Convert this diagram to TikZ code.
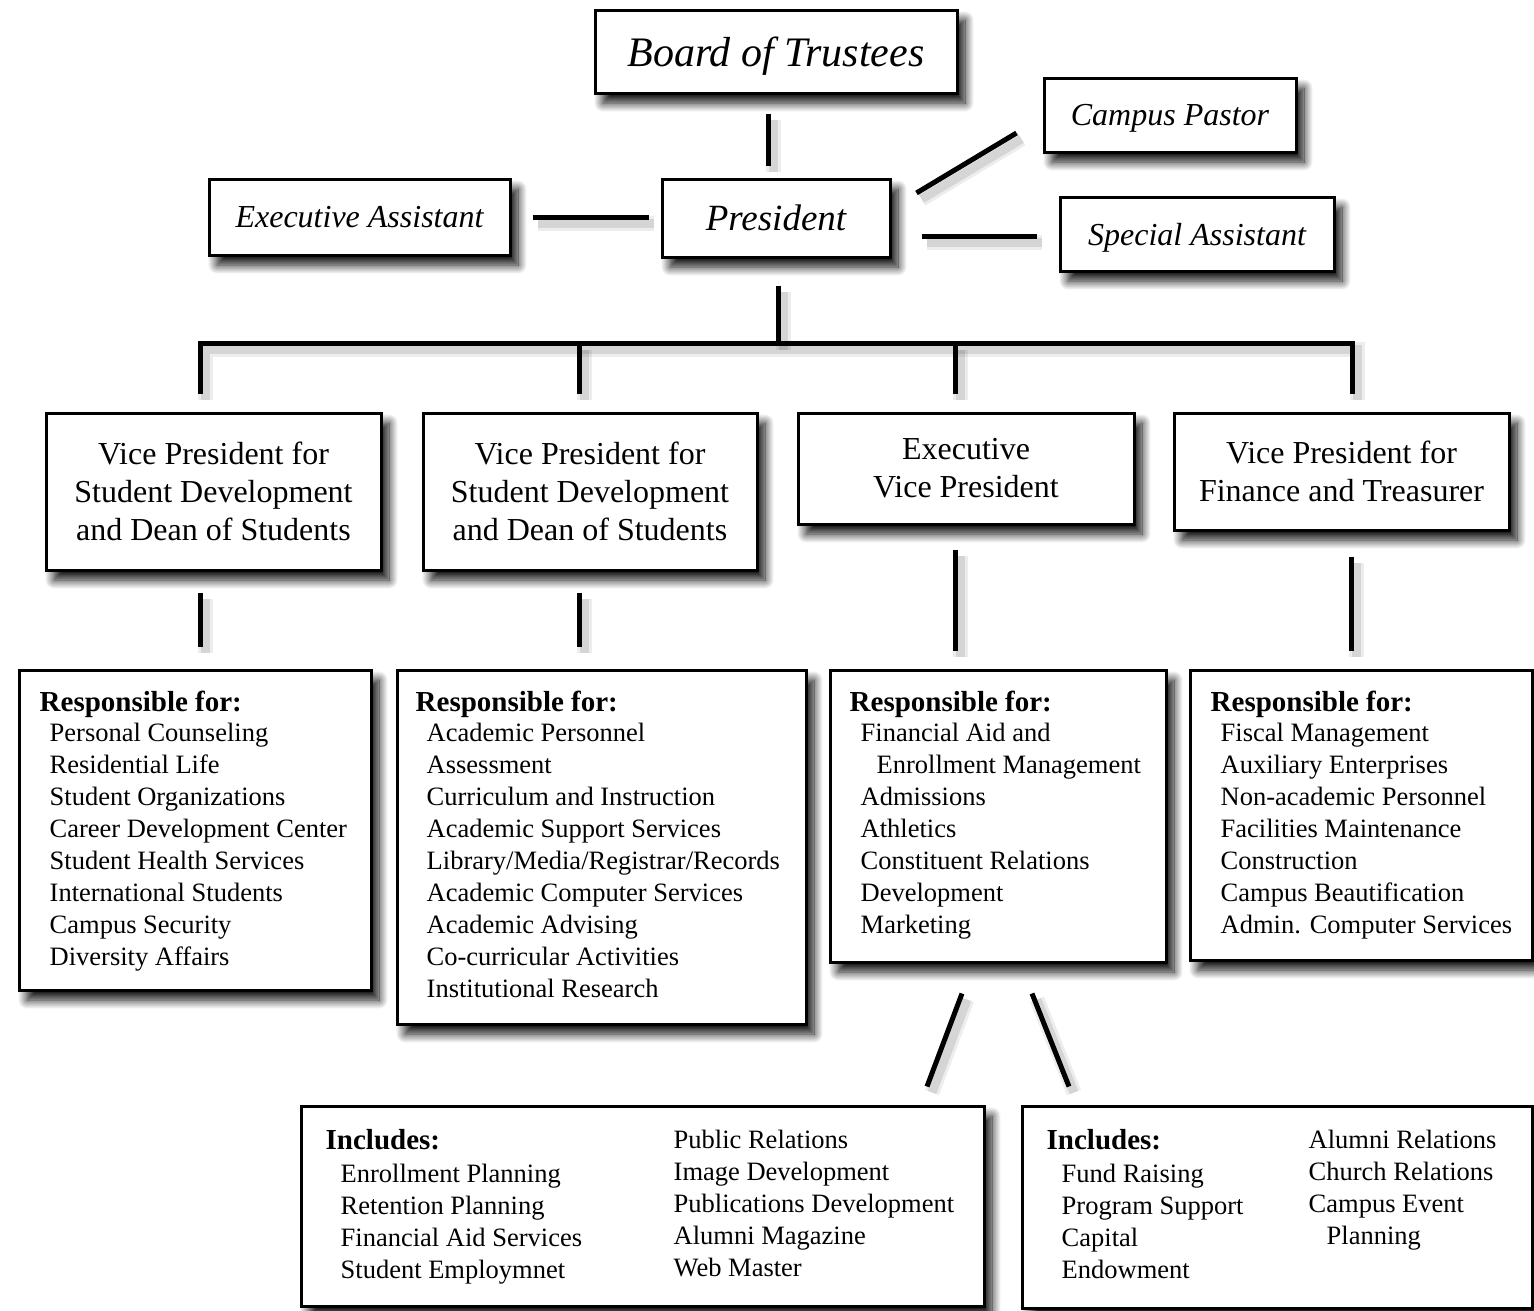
\documentclass[tikz,border=0pt]{standalone}
\usepackage{fontspec}
\setmainfont{Liberation Serif}
\usetikzlibrary{calc,shadows.blur}
\tikzset{
  box/.style={draw=black, line width=3pt, fill=white, rectangle, inner sep=0pt,
    blur shadow={shadow xshift=8pt, shadow yshift=-10pt, shadow blur radius=9pt,
      shadow blur steps=16, shadow opacity=95}},
  conn/.style={line width=5pt,
    preaction={draw=black, opacity=0.07, line width=15pt, transform canvas={shift={(5,6)}}},
    preaction={draw=black, opacity=0.10, line width=9pt, transform canvas={shift={(5,6)}}}},
  ttl/.style={font=\itshape\fontsize{32}{38}\selectfont, text depth=0pt},
  vpt/.style={font=\fontsize{32}{38}\selectfont, align=center},
  lst/.style={font=\fontsize{26.5}{32}\selectfont, align=left, inner sep=0pt, anchor=base west},
}
\newcommand{\hd}[1]{{\bfseries\fontsize{29}{32}\selectfont #1}}
\begin{document}
\begin{tikzpicture}[x=1pt,y=-1pt]
\useasboundingbox (0,0) rectangle (1534,1310);
% top
\node[box, minimum width=362, minimum height=83, text depth=0pt, font=\itshape\fontsize{42}{48}\selectfont] (board) at (776,51.5) {Board of Trustees};
\node[box, minimum width=228, minimum height=78, font=\itshape\fontsize{37}{42}\selectfont] (pres) at (776,218) {President};
\node[box, ttl, minimum width=301, minimum height=76] (ea) at (359.5,217) {Executive Assistant};
\node[box, ttl, minimum width=252, minimum height=74] (pastor) at (1170,115) {Campus Pastor};
\node[box, ttl, minimum width=274, minimum height=74] (spec) at (1197,234) {Special Assistant};
% VPs
\node[box, vpt, minimum width=335, minimum height=157] (vp1) at (213.5,491.5) {Vice President for\\Student Development\\and Dean of Students};
\node[box, vpt, minimum width=334, minimum height=157] (vp2) at (590,491.5) {Vice President for\\Student Development\\and Dean of Students};
\node[box, vpt, minimum width=336, minimum height=111] (evp) at (966,468.5) {Executive\\Vice President};
\node[box, vpt, minimum width=335, minimum height=117] (vpf) at (1341.5,471.5) {Vice President for\\Finance and Treasurer};
% responsibility boxes
\node[box, minimum width=352, minimum height=320] (r1) at (195,830) {};
\node[box, minimum width=409, minimum height=354] (r2) at (601.5,847) {};
\node[box, minimum width=336, minimum height=292] (r3) at (998,816) {};
\node[box, minimum width=342, minimum height=290] (r4) at (1361,815) {};
\node[lst] (r1t) at ($(r1.north west)+(22,297)$) {\hd{Responsible for:}\\[-2pt]
\hspace*{10pt}Personal Counseling\\
\hspace*{10pt}Residential Life\\
\hspace*{10pt}Student Organizations\\
\hspace*{10pt}Career Development Center\\
\hspace*{10pt}Student Health Services\\
\hspace*{10pt}International Students\\
\hspace*{10pt}Campus Security\\
\hspace*{10pt}Diversity Affairs};
\node[lst] (r2t) at ($(r2.north west)+(20,329)$) {\hd{Responsible for:}\\[-2pt]
\hspace*{11pt}Academic Personnel\\
\hspace*{11pt}Assessment\\
\hspace*{11pt}Curriculum and Instruction\\
\hspace*{11pt}Academic Support Services\\
\hspace*{11pt}Library/Media/Registrar/Records\\
\hspace*{11pt}Academic Computer Services\\
\hspace*{11pt}Academic Advising\\
\hspace*{11pt}Co-curricular Activities\\
\hspace*{11pt}Institutional Research};
\node[lst] (r3t) at ($(r3.north west)+(21,265)$) {\hd{Responsible for:}\\[-2pt]
\hspace*{11pt}Financial Aid and\\
\hspace*{27pt}Enrollment Management\\
\hspace*{11pt}Admissions\\
\hspace*{11pt}Athletics\\
\hspace*{11pt}Constituent Relations\\
\hspace*{11pt}Development\\
\hspace*{11pt}Marketing};
\node[lst] (r4t) at ($(r4.north west)+(22,265)$) {\hd{Responsible for:}\\[-2pt]
\hspace*{10pt}Fiscal Management\\
\hspace*{10pt}Auxiliary Enterprises\\
\hspace*{10pt}Non-academic Personnel\\
\hspace*{10pt}Facilities Maintenance\\
\hspace*{10pt}Construction\\
\hspace*{10pt}Campus Beautification\\
\hspace*{10pt}Admin. Computer Services};
% includes boxes
\node[box, minimum width=683, minimum height=200] (i1) at (642.5,1206) {};
\node[box, minimum width=510, minimum height=202] (i2) at (1277,1207) {};
\node[lst] (i1l) at ($(i1.north west)+(26,174)$) {\hd{Includes:}\\[1pt]
\hspace*{15pt}Enrollment Planning\\
\hspace*{15pt}Retention Planning\\
\hspace*{15pt}Financial Aid Services\\
\hspace*{15pt}Student Employmnet};
\node[lst] (i1r) at ($(i1.north west)+(374,172)$) {Public Relations\\
Image Development\\
Publications Development\\
Alumni Magazine\\
Web Master};
\node[lst] (i2l) at ($(i2.north west)+(26,174)$) {\hd{Includes:}\\[1pt]
\hspace*{15pt}Fund Raising\\
\hspace*{15pt}Program Support\\
\hspace*{15pt}Capital\\
\hspace*{15pt}Endowment};
\node[lst] (i2r) at ($(i2.north west)+(288,140)$) {Alumni Relations\\
Church Relations\\
Campus Event\\
\hspace*{18pt}Planning};
% connectors
\draw[conn] ($(board.south)+(-8,19)$) -- ($(pres.north)+(-8,-12)$);
\draw[conn] ($(ea.east)+(21,0)$) -- ($(pres.west)+(-12,-1)$);
\draw[conn] ($(pres.east)+(25,-25)$) -- ($(pastor.west)+(-26,18)$);
\draw[conn] ($(pres.east)+(30,18)$) -- ($(spec.west)+(-22,2)$);
\coordinate (bar) at ($(pres.south)+(2,85)$);
\draw[conn] ($(pres.south)+(2,27)$) -- (bar);
\draw[conn] ($(vp1.north)+(-13.5,-18)$) |- (bar) -| ($(vpf.north)+(10.5,-18)$);
\draw[conn] ($(vp2.north)+(-11,-18)$) -- ($(bar)+(-199,0)$);
\draw[conn] ($(evp.north)+(-11,-18)$) -- ($(bar)+(177,0)$);
\draw[conn] ($(vp1.south)+(-13.5,21)$) -- ($(r1.north)+(5,-22)$);
\draw[conn] ($(vp2.south)+(-11,21)$) -- ($(r2.north)+(-22.5,-22)$);
\draw[conn] ($(evp.south)+(-11,24)$) -- ($(r3.north)+(-43,-18)$);
\draw[conn] ($(vpf.south)+(9.5,25)$) -- ($(r4.north)+(-10,-18)$);
\draw[conn] ($(r3.south)+(-36,30)$) -- ($(i1.north)+(284.5,-18)$);
\draw[conn] ($(r3.south)+(34,30)$) -- ($(i2.north)+(-208,-18)$);
\end{tikzpicture}
\end{document}
